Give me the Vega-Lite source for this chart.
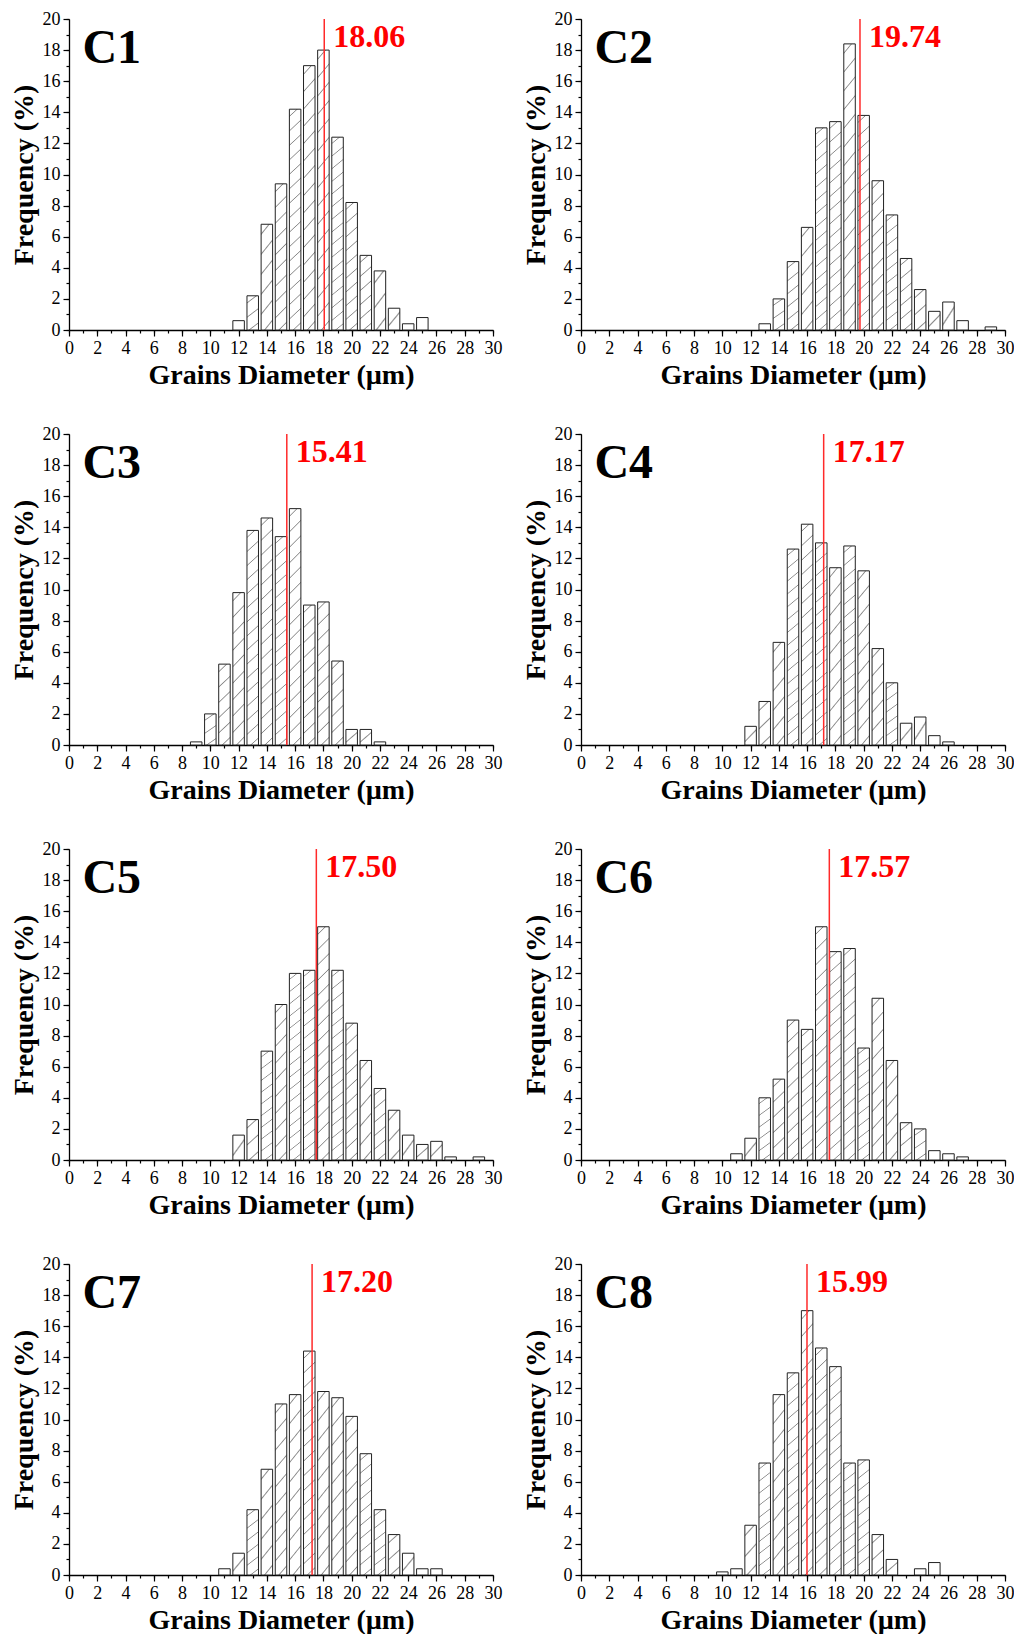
{
"$schema": "https://vega.github.io/schema/vega-lite/v6.json",
"background": "white",
"padding": {"left": 10, "top": 0, "right": 0, "bottom": 0},
"data": {"values": [
{"p":"C1","d":12,"f":0.6},{"p":"C1","d":13,"f":2.2},{"p":"C1","d":14,"f":6.8},{"p":"C1","d":15,"f":9.4},{"p":"C1","d":16,"f":14.2},{"p":"C1","d":17,"f":17.0},{"p":"C1","d":18,"f":18.0},{"p":"C1","d":19,"f":12.4},{"p":"C1","d":20,"f":8.2},{"p":"C1","d":21,"f":4.8},{"p":"C1","d":22,"f":3.8},{"p":"C1","d":23,"f":1.4},{"p":"C1","d":24,"f":0.4},{"p":"C1","d":25,"f":0.8},
{"p":"C2","d":13,"f":0.4},{"p":"C2","d":14,"f":2.0},{"p":"C2","d":15,"f":4.4},{"p":"C2","d":16,"f":6.6},{"p":"C2","d":17,"f":13.0},{"p":"C2","d":18,"f":13.4},{"p":"C2","d":19,"f":18.4},{"p":"C2","d":20,"f":13.8},{"p":"C2","d":21,"f":9.6},{"p":"C2","d":22,"f":7.4},{"p":"C2","d":23,"f":4.6},{"p":"C2","d":24,"f":2.6},{"p":"C2","d":25,"f":1.2},{"p":"C2","d":26,"f":1.8},{"p":"C2","d":27,"f":0.6},{"p":"C2","d":29,"f":0.2},
{"p":"C3","d":9,"f":0.2},{"p":"C3","d":10,"f":2.0},{"p":"C3","d":11,"f":5.2},{"p":"C3","d":12,"f":9.8},{"p":"C3","d":13,"f":13.8},{"p":"C3","d":14,"f":14.6},{"p":"C3","d":15,"f":13.4},{"p":"C3","d":16,"f":15.2},{"p":"C3","d":17,"f":9.0},{"p":"C3","d":18,"f":9.2},{"p":"C3","d":19,"f":5.4},{"p":"C3","d":20,"f":1.0},{"p":"C3","d":21,"f":1.0},{"p":"C3","d":22,"f":0.2},
{"p":"C4","d":12,"f":1.2},{"p":"C4","d":13,"f":2.8},{"p":"C4","d":14,"f":6.6},{"p":"C4","d":15,"f":12.6},{"p":"C4","d":16,"f":14.2},{"p":"C4","d":17,"f":13.0},{"p":"C4","d":18,"f":11.4},{"p":"C4","d":19,"f":12.8},{"p":"C4","d":20,"f":11.2},{"p":"C4","d":21,"f":6.2},{"p":"C4","d":22,"f":4.0},{"p":"C4","d":23,"f":1.4},{"p":"C4","d":24,"f":1.8},{"p":"C4","d":25,"f":0.6},{"p":"C4","d":26,"f":0.2},
{"p":"C5","d":12,"f":1.6},{"p":"C5","d":13,"f":2.6},{"p":"C5","d":14,"f":7.0},{"p":"C5","d":15,"f":10.0},{"p":"C5","d":16,"f":12.0},{"p":"C5","d":17,"f":12.2},{"p":"C5","d":18,"f":15.0},{"p":"C5","d":19,"f":12.2},{"p":"C5","d":20,"f":8.8},{"p":"C5","d":21,"f":6.4},{"p":"C5","d":22,"f":4.6},{"p":"C5","d":23,"f":3.2},{"p":"C5","d":24,"f":1.6},{"p":"C5","d":25,"f":1.0},{"p":"C5","d":26,"f":1.2},{"p":"C5","d":27,"f":0.2},{"p":"C5","d":29,"f":0.2},
{"p":"C6","d":11,"f":0.4},{"p":"C6","d":12,"f":1.4},{"p":"C6","d":13,"f":4.0},{"p":"C6","d":14,"f":5.2},{"p":"C6","d":15,"f":9.0},{"p":"C6","d":16,"f":8.4},{"p":"C6","d":17,"f":15.0},{"p":"C6","d":18,"f":13.4},{"p":"C6","d":19,"f":13.6},{"p":"C6","d":20,"f":7.2},{"p":"C6","d":21,"f":10.4},{"p":"C6","d":22,"f":6.4},{"p":"C6","d":23,"f":2.4},{"p":"C6","d":24,"f":2.0},{"p":"C6","d":25,"f":0.6},{"p":"C6","d":26,"f":0.4},{"p":"C6","d":27,"f":0.2},
{"p":"C7","d":11,"f":0.4},{"p":"C7","d":12,"f":1.4},{"p":"C7","d":13,"f":4.2},{"p":"C7","d":14,"f":6.8},{"p":"C7","d":15,"f":11.0},{"p":"C7","d":16,"f":11.6},{"p":"C7","d":17,"f":14.4},{"p":"C7","d":18,"f":11.8},{"p":"C7","d":19,"f":11.4},{"p":"C7","d":20,"f":10.2},{"p":"C7","d":21,"f":7.8},{"p":"C7","d":22,"f":4.2},{"p":"C7","d":23,"f":2.6},{"p":"C7","d":24,"f":1.4},{"p":"C7","d":25,"f":0.4},{"p":"C7","d":26,"f":0.4},
{"p":"C8","d":10,"f":0.2},{"p":"C8","d":11,"f":0.4},{"p":"C8","d":12,"f":3.2},{"p":"C8","d":13,"f":7.2},{"p":"C8","d":14,"f":11.6},{"p":"C8","d":15,"f":13.0},{"p":"C8","d":16,"f":17.0},{"p":"C8","d":17,"f":14.6},{"p":"C8","d":18,"f":13.4},{"p":"C8","d":19,"f":7.2},{"p":"C8","d":20,"f":7.4},{"p":"C8","d":21,"f":2.6},{"p":"C8","d":22,"f":1.0},{"p":"C8","d":24,"f":0.4},{"p":"C8","d":25,"f":0.8},
{"p":"C1","m":18.06},{"p":"C2","m":19.74},{"p":"C3","m":15.41},{"p":"C4","m":17.17},{"p":"C5","m":17.50},{"p":"C6","m":17.57},{"p":"C7","m":17.20},{"p":"C8","m":15.99}
]},
"facet": {"field": "p", "type": "nominal", "title": null, "header": {"labels": false, "labelExpr": "''", "labelPadding": 0, "title": null, "titlePadding": 0}},
"columns": 2,
"spacing": {"row": 104, "column": 88},
"bounds": "flush",
"resolve": {"axis": {"x": "independent", "y": "independent"}},
"spec": {
  "width": 424,
  "height": 311,
  "resolve": {"axis": {"x": "independent", "y": "independent"}},
  "layer": [
    {
      "transform": [{"filter": "isValid(datum.f)"}],
      "mark": {"type": "bar", "width": 11.5, "stroke": "#222222", "strokeWidth": 1},
      "encoding": {
        "x": {"field": "d", "type": "quantitative", "scale": {"domain": [0, 30], "nice": false, "padding": 0},
              "axis": {"orient": "bottom", "title": "Grains Diameter (µm)", "values": [0,2,4,6,8,10,12,14,16,18,20,22,24,26,28,30],
                       "tickSize": 6, "labelFlush": false, "labelOverlap": false, "labelPadding": 3, "titlePadding": 4}},
        "y": {"field": "f", "type": "quantitative", "scale": {"domain": [0, 20], "nice": false, "padding": 0},
              "axis": {"orient": "left", "title": "Frequency (%)", "values": [0,2,4,6,8,10,12,14,16,18,20],
                       "tickSize": 6, "labelFlush": false, "labelOverlap": false, "labelPadding": 3, "titlePadding": 4}},
        "fill": {
          "condition": [
            {"test": "datum.f >= 12", "value": {"gradient": "linear", "x1": 0, "y1": 0, "x2": 0.0512, "y2": 1.0464, "stops": [
              {"offset": 0.02675, "color": "white"}, {"offset": 0.03125, "color": "#8a8a8a"}, {"offset": 0.03575, "color": "white"},
              {"offset": 0.08925, "color": "white"}, {"offset": 0.09375, "color": "#8a8a8a"}, {"offset": 0.09825, "color": "white"},
              {"offset": 0.15175, "color": "white"}, {"offset": 0.15625, "color": "#8a8a8a"}, {"offset": 0.16075, "color": "white"},
              {"offset": 0.21425, "color": "white"}, {"offset": 0.21875, "color": "#8a8a8a"}, {"offset": 0.22325, "color": "white"},
              {"offset": 0.27675, "color": "white"}, {"offset": 0.28125, "color": "#8a8a8a"}, {"offset": 0.28575, "color": "white"},
              {"offset": 0.33925, "color": "white"}, {"offset": 0.34375, "color": "#8a8a8a"}, {"offset": 0.34825, "color": "white"},
              {"offset": 0.40175, "color": "white"}, {"offset": 0.40625, "color": "#8a8a8a"}, {"offset": 0.41075, "color": "white"},
              {"offset": 0.46425, "color": "white"}, {"offset": 0.46875, "color": "#8a8a8a"}, {"offset": 0.47325, "color": "white"},
              {"offset": 0.52675, "color": "white"}, {"offset": 0.53125, "color": "#8a8a8a"}, {"offset": 0.53575, "color": "white"},
              {"offset": 0.58925, "color": "white"}, {"offset": 0.59375, "color": "#8a8a8a"}, {"offset": 0.59825, "color": "white"},
              {"offset": 0.65175, "color": "white"}, {"offset": 0.65625, "color": "#8a8a8a"}, {"offset": 0.66075, "color": "white"},
              {"offset": 0.71425, "color": "white"}, {"offset": 0.71875, "color": "#8a8a8a"}, {"offset": 0.72325, "color": "white"},
              {"offset": 0.77675, "color": "white"}, {"offset": 0.78125, "color": "#8a8a8a"}, {"offset": 0.78575, "color": "white"},
              {"offset": 0.83925, "color": "white"}, {"offset": 0.84375, "color": "#8a8a8a"}, {"offset": 0.84825, "color": "white"},
              {"offset": 0.90175, "color": "white"}, {"offset": 0.90625, "color": "#8a8a8a"}, {"offset": 0.91075, "color": "white"},
              {"offset": 0.96425, "color": "white"}, {"offset": 0.96875, "color": "#8a8a8a"}, {"offset": 0.97325, "color": "white"}]}},
            {"test": "datum.f >= 7", "value": {"gradient": "linear", "x1": 0, "y1": 0, "x2": 0.0851, "y2": 1.0726, "stops": [
              {"offset": 0.0425, "color": "white"}, {"offset": 0.05, "color": "#8a8a8a"}, {"offset": 0.0575, "color": "white"},
              {"offset": 0.1425, "color": "white"}, {"offset": 0.15, "color": "#8a8a8a"}, {"offset": 0.1575, "color": "white"},
              {"offset": 0.2425, "color": "white"}, {"offset": 0.25, "color": "#8a8a8a"}, {"offset": 0.2575, "color": "white"},
              {"offset": 0.3425, "color": "white"}, {"offset": 0.35, "color": "#8a8a8a"}, {"offset": 0.3575, "color": "white"},
              {"offset": 0.4425, "color": "white"}, {"offset": 0.45, "color": "#8a8a8a"}, {"offset": 0.4575, "color": "white"},
              {"offset": 0.5425, "color": "white"}, {"offset": 0.55, "color": "#8a8a8a"}, {"offset": 0.5575, "color": "white"},
              {"offset": 0.6425, "color": "white"}, {"offset": 0.65, "color": "#8a8a8a"}, {"offset": 0.6575, "color": "white"},
              {"offset": 0.7425, "color": "white"}, {"offset": 0.75, "color": "#8a8a8a"}, {"offset": 0.7575, "color": "white"},
              {"offset": 0.8425, "color": "white"}, {"offset": 0.85, "color": "#8a8a8a"}, {"offset": 0.8575, "color": "white"},
              {"offset": 0.9425, "color": "white"}, {"offset": 0.95, "color": "#8a8a8a"}, {"offset": 0.9575, "color": "white"}]}},
            {"test": "datum.f >= 4", "value": {"gradient": "linear", "x1": 0, "y1": 0, "x2": 0.1508, "y2": 1.1149, "stops": [
              {"offset": 0.0703, "color": "white"}, {"offset": 0.0833, "color": "#8a8a8a"}, {"offset": 0.0963, "color": "white"},
              {"offset": 0.237, "color": "white"}, {"offset": 0.25, "color": "#8a8a8a"}, {"offset": 0.263, "color": "white"},
              {"offset": 0.4037, "color": "white"}, {"offset": 0.4167, "color": "#8a8a8a"}, {"offset": 0.4297, "color": "white"},
              {"offset": 0.5703, "color": "white"}, {"offset": 0.5833, "color": "#8a8a8a"}, {"offset": 0.5963, "color": "white"},
              {"offset": 0.737, "color": "white"}, {"offset": 0.75, "color": "#8a8a8a"}, {"offset": 0.763, "color": "white"},
              {"offset": 0.9037, "color": "white"}, {"offset": 0.9167, "color": "#8a8a8a"}, {"offset": 0.9297, "color": "white"}]}},
            {"test": "datum.f >= 2", "value": {"gradient": "linear", "x1": 0, "y1": 0, "x2": 0.3012, "y2": 1.1786, "stops": [
              {"offset": 0.1417, "color": "white"}, {"offset": 0.1667, "color": "#8a8a8a"}, {"offset": 0.1917, "color": "white"},
              {"offset": 0.475, "color": "white"}, {"offset": 0.5, "color": "#8a8a8a"}, {"offset": 0.525, "color": "white"},
              {"offset": 0.8083, "color": "white"}, {"offset": 0.8333, "color": "#8a8a8a"}, {"offset": 0.8583, "color": "white"}]}},
            {"test": "datum.f >= 1", "value": {"gradient": "linear", "x1": 0, "y1": 0, "x2": 0.744, "y2": 1.164, "stops": [
              {"offset": 0.45, "color": "white"}, {"offset": 0.5, "color": "#8a8a8a"}, {"offset": 0.55, "color": "white"}]}}
          ],
          "value": "white"
        }
      }
    },
    {
      "transform": [{"filter": "isValid(datum.m)"}],
      "mark": {"type": "rule", "color": "#ff2a2a", "strokeWidth": 1.5},
      "encoding": {
        "x": {"field": "m", "type": "quantitative",
              "axis": {"orient": "bottom", "values": [0,1,2,3,4,5,6,7,8,9,10,11,12,13,14,15,16,17,18,19,20,21,22,23,24,25,26,27,28,29,30],
                       "labels": false, "domain": false, "title": null, "tickSize": 3}},
        "y": {"datum": 20, "axis": {"orient": "left", "values": [0,1,2,3,4,5,6,7,8,9,10,11,12,13,14,15,16,17,18,19,20],
                       "labels": false, "domain": false, "title": null, "tickSize": 3}},
        "y2": {"datum": 0}
      }
    },
    {
      "transform": [{"filter": "isValid(datum.m)"}],
      "mark": {"type": "text", "align": "left", "baseline": "alphabetic", "dx": 9, "font": "Liberation Serif", "fontSize": 32, "fontWeight": "bold", "color": "#ff0000"},
      "encoding": {
        "x": {"field": "m", "type": "quantitative", "axis": null},
        "y": {"datum": 18.2, "axis": null},
        "text": {"field": "m", "type": "quantitative", "format": ".2f"}
      }
    },
    {
      "transform": [{"filter": "isValid(datum.m)"}],
      "mark": {"type": "text", "align": "left", "baseline": "alphabetic", "font": "Liberation Serif", "fontSize": 48, "fontWeight": "bold", "color": "black"},
      "encoding": {
        "x": {"datum": 0.95, "axis": null},
        "y": {"datum": 17.2, "axis": null},
        "text": {"field": "p", "type": "nominal"}
      }
    }
  ]
},
"config": {
  "view": {"stroke": null},
  "scale": {"continuousPadding": 0},
  "header": {"labels": false, "title": null, "labelPadding": 0},
  "axis": {"grid": false, "domainColor": "black", "domainWidth": 1.3, "tickColor": "black", "tickWidth": 1.2, "labelOverlap": false,
           "labelFont": "Liberation Serif", "labelFontSize": 18, "labelColor": "black",
           "titleFont": "Liberation Serif", "titleFontSize": 28, "titleFontWeight": "bold", "titleColor": "black"}
}
}
